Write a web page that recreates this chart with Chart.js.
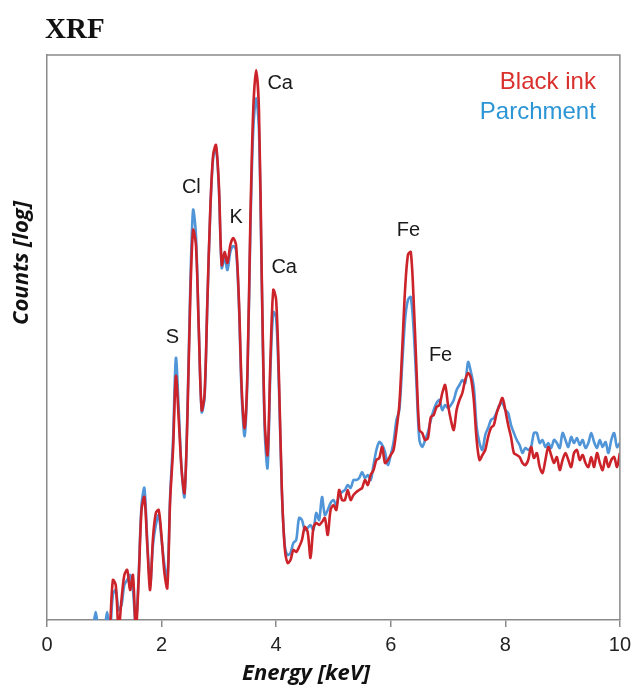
<!DOCTYPE html>
<html>
<head>
<meta charset="utf-8">
<script src="https://cdn.jsdelivr.net/npm/chart.js@4.4.1/dist/chart.umd.min.js"></script>
<style>
    html, body { margin: 0; padding: 0; background: #fff; }
    #wrap { width: 637px; height: 686px; position: relative; }
</style>
</head>
<body>
<div id="wrap"><canvas id="xrfChart"></canvas></div>
<script>
    // energy channels (keV)
    const energy = [
        0.80, 0.85, 0.90, 0.95, 1.00, 1.05, 1.10, 1.15, 1.20, 1.25, 1.30, 1.35, 1.40, 1.45, 1.50, 1.55, 1.60, 1.65, 1.70, 1.75,
        1.80, 1.85, 1.90, 1.95, 2.00, 2.05, 2.10, 2.15, 2.20, 2.25, 2.30, 2.35, 2.40, 2.45, 2.50, 2.55, 2.60, 2.65, 2.70, 2.75,
        2.80, 2.85, 2.90, 2.95, 3.00, 3.05, 3.10, 3.15, 3.20, 3.25, 3.30, 3.35, 3.40, 3.45, 3.50, 3.55, 3.60, 3.65, 3.70, 3.75,
        3.80, 3.85, 3.90, 3.95, 4.00, 4.05, 4.10, 4.15, 4.20, 4.25, 4.30, 4.35, 4.40, 4.45, 4.50, 4.55, 4.60, 4.65, 4.70, 4.75,
        4.80, 4.85, 4.90, 4.95, 5.00, 5.05, 5.10, 5.15, 5.20, 5.25, 5.30, 5.35, 5.40, 5.45, 5.50, 5.55, 5.60, 5.65, 5.70, 5.75,
        5.80, 5.85, 5.90, 5.95, 6.00, 6.05, 6.10, 6.15, 6.20, 6.25, 6.30, 6.35, 6.40, 6.45, 6.50, 6.55, 6.60, 6.65, 6.70, 6.75,
        6.80, 6.85, 6.90, 6.95, 7.00, 7.05, 7.10, 7.15, 7.20, 7.25, 7.30, 7.35, 7.40, 7.45, 7.50, 7.55, 7.60, 7.65, 7.70, 7.75,
        7.80, 7.85, 7.90, 7.95, 8.00, 8.05, 8.10, 8.15, 8.20, 8.25, 8.30, 8.35, 8.40, 8.45, 8.50, 8.55, 8.60, 8.65, 8.70, 8.75,
        8.80, 8.85, 8.90, 8.95, 9.00, 9.05, 9.10, 9.15, 9.20, 9.25, 9.30, 9.35, 9.40, 9.45, 9.50, 9.55, 9.60, 9.65, 9.70, 9.75,
        9.80, 9.85, 9.90, 9.95, 10.00
    ];

    // counts on a log axis, arbitrary units (0 = axis floor)
    const blackInk = [
        null, null, null, null, null, null, -10, 40, 35, -10, 20, 45, 50, 30, 45, -10, 40, 110, 123, 75,
        30, 82, 107, 110, 83, 47, 32, 120, 170, 244, 200, 150, 127, 200, 320, 390, 375, 290, 210, 225,
        320, 410, 465, 475, 435, 355, 368, 357, 375, 382, 375, 320, 230, 192, 250, 400, 510, 550, 510, 340,
        200, 165, 260, 330, 320, 240, 130, 72, 57, 60, 70, 68, 73, 80, 93, 88, 62, 92, 97, 95,
        98, 102, 85, 110, 115, 110, 130, 120, 120, 130, 120, 125, 128, 130, 132, 140, 135, 145, 150, 160,
        162, 173, 157, 160, 165, 170, 190, 215, 270, 330, 365, 368, 320, 250, 190, 187, 180, 182, 203, 205,
        213, 215, 227, 235, 215, 200, 190, 210, 220, 227, 240, 247, 242, 220, 180, 160, 165, 170, 183, 192,
        195, 207, 215, 222, 210, 195, 183, 167, 165, 163, 157, 155, 160, 173, 162, 167, 153, 147, 160, 173,
        165, 157, 163, 150, 160, 167, 160, 153, 167, 170, 160, 165, 157, 153, 163, 153, 167, 157, 150, 163,
        153, 160, 163, 153, 167
    ];

    const parchment = [
        -10, 8, -10, -10, -10, 8, -10, 25, 30, 10, 15, 35, 40, 45, 30, -5, 45, 115, 132, 80,
        35, 75, 95, 105, 80, 55, 40, 125, 180, 262, 210, 150, 123, 205, 330, 410, 385, 290, 208, 222,
        318, 408, 462, 472, 432, 352, 362, 350, 368, 374, 370, 315, 222, 184, 245, 390, 490, 522, 490, 335,
        190, 152, 250, 308, 302, 230, 128, 75, 65, 67, 77, 80, 102, 100, 90, 92, 95, 90, 107, 100,
        123, 105, 110, 117, 120, 115, 125, 128, 130, 135, 132, 140, 140, 142, 148, 142, 145, 140, 155, 170,
        178, 175, 168, 155, 165, 178, 200, 210, 255, 300, 320, 323, 290, 235, 180, 173, 180, 188, 200, 210,
        217, 220, 210, 215, 212, 215, 220, 230, 235, 240, 237, 258, 248, 233, 193, 177, 170, 185, 192, 200,
        202, 208, 215, 217, 210, 207, 195, 187, 180, 175, 167, 172, 170, 173, 187, 187, 177, 180, 173, 177,
        172, 180, 177, 172, 187, 180, 173, 183, 177, 182, 175, 180, 172, 177, 187, 178, 172, 180, 173, 178,
        167, 180, 187, 173, 177
    ];

    // peak labels: element, energy (keV), height on the count axis
    const peakNames = ["S", "Cl", "K", "Ca", "Ca", "Fe", "Fe"];
    const peakEnergy = [2.19, 2.52, 3.30, 4.07, 4.14, 6.31, 6.87];
    const peakHeight = [283, 433, 403, 537, 353, 390, 265];

    const xTicks = [0, 2, 4, 6, 8, 10];

    const RED = "#cc2229";
    const BLUE = "#4f95d8";

    const textPlugin = {
        id: "xrfText",
        afterDraw(chart) {
            const c = chart.ctx;
            const a = chart.chartArea;
            const xs = chart.scales.x;
            const ys = chart.scales.y;
            c.save();

            // frame top / right
            c.strokeStyle = "#8a8a8a";
            c.lineWidth = 1.5;
            c.beginPath();
            c.moveTo(a.left, a.top);
            c.lineTo(a.right, a.top);
            c.lineTo(a.right, a.bottom);
            c.stroke();

            // title
            c.fillStyle = "#111";
            c.font = "bold 29px 'Liberation Serif', 'DejaVu Serif', serif";
            c.textAlign = "left";
            c.textBaseline = "alphabetic";
            c.fillText("XRF", 45, 38);

            // legend text
            c.font = "24px 'Liberation Sans', Arial, sans-serif";
            c.textAlign = "right";
            c.textBaseline = "middle";
            c.fillStyle = "#d9302c";
            c.fillText("Black ink", a.right - 24, a.top + 27);
            c.fillStyle = "#2b95d6";
            c.fillText("Parchment", a.right - 24, a.top + 57);

            // peak labels
            c.font = "20px 'Liberation Sans', Arial, sans-serif";
            c.textAlign = "center";
            c.fillStyle = "#1a1a1a";
            peakNames.forEach(function (name, i) {
                c.fillText(name, xs.getPixelForValue(peakEnergy[i]), ys.getPixelForValue(peakHeight[i]));
            });

            // axis titles
            c.font = "italic bold 22px 'Open Sans', 'Noto Sans', sans-serif";
            c.fillStyle = "#111";
            c.fillText("Energy [keV]", 306, 674);
            c.translate(22, 263);
            c.rotate(-Math.PI / 2);
            c.fillText("Counts [log]", 0, 0);

            c.restore();
        }
    };

    const ctx = document.getElementById("xrfChart");
    new Chart(ctx, {
        type: "line",
        data: {
            labels: energy,
            datasets: [
                {
                    label: "Black ink",
                    data: blackInk,
                    borderColor: RED,
                    borderWidth: 2.6,
                    pointRadius: 0,
                    tension: 0.3,
                    spanGaps: false,
                },
                {
                    label: "Parchment",
                    data: parchment,
                    borderColor: BLUE,
                    borderWidth: 2.6,
                    pointRadius: 0,
                    tension: 0.3,
                    spanGaps: false,
                },
            ],
        },
        options: {
            responsive: true,
            maintainAspectRatio: false,
            animation: false,
            layout: {
                padding: { top: 55, right: 15, left: 0, bottom: 0 },
            },
            plugins: {
                legend: { display: false },
                tooltip: { enabled: false },
                title: { display: false },
            },
            scales: {
                x: {
                    type: "linear",
                    min: 0,
                    max: 10,
                    afterBuildTicks: function (scale) {
                        scale.ticks = xTicks.map(function (v) { return { value: v }; });
                    },
                    afterFit: function (scale) { scale.height = 66; },
                    ticks: {
                        color: "#222",
                        padding: 6,
                        maxRotation: 0,
                        font: { family: "'Liberation Sans', Arial, sans-serif", size: 20 },
                    },
                    grid: {
                        display: true,
                        drawOnChartArea: false,
                        tickLength: 7,
                        color: "#8a8a8a",
                        lineWidth: 1.5,
                    },
                    border: { color: "#8a8a8a", width: 1.5 },
                },
                y: {
                    type: "linear",
                    min: 0,
                    max: 565,
                    afterFit: function (scale) { scale.width = 47; },
                    ticks: { display: false },
                    grid: { display: false },
                    border: { color: "#8a8a8a", width: 1.5 },
                },
            },
        },
        plugins: [textPlugin],
    });
</script>
</body>
</html>
